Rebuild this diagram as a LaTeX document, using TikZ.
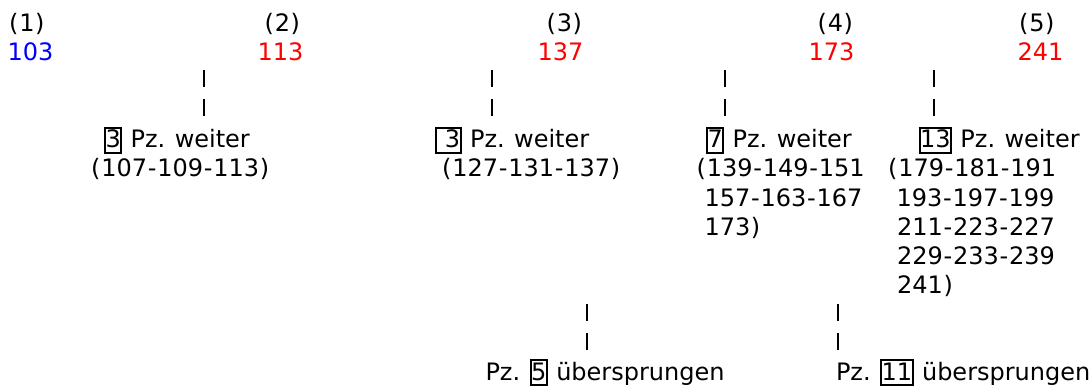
\documentclass[tikz,border=0pt]{standalone}
\usepackage{fontspec}
\setmainfont{DejaVu Sans}[WordSpace=1.1]
\frenchspacing
\definecolor{numblue}{RGB}{0,0,255}
\definecolor{numred}{RGB}{255,0,0}
\newcommand{\boxnum}[1]{{\setlength{\fboxsep}{0pt}\setlength{\fboxrule}{2pt}\fbox{\rule[-4.3pt]{0pt}{23.6pt}\kern-0.5pt#1\kern-0.5pt}}}
\newcommand{\hy}{\kern0.8pt-\kern0.8pt}
\newcommand{\lp}{\kern0.7pt(\kern0.7pt}
\newcommand{\rp}{\kern0.7pt)\kern0.7pt}
\tikzset{
  txt/.style={anchor=base west, inner sep=0pt, outer sep=0pt, font=\fontsize{24}{29}\selectfont\frenchspacing},
  bar/.style={line width=2pt, dash pattern=on 17pt off 12pt}
}
\begin{document}
\begin{tikzpicture}[x=1pt,y=-1pt]
\useasboundingbox (0,0) rectangle (1091,390);
% row baselines: 32, 61, 90, 119, 148, 177, 206, 235, 264, 293, 322, 351, 380
% header labels
\node[txt] (h1) at (8.5,32) {\lp1\rp};
\node[txt] (h2) at (264,32) {\lp2\rp};
\node[txt] (h3) at (546,32) {\lp3\rp};
\node[txt] (h4) at (817,32) {\lp4\rp};
\node[txt] (h5) at (1018.5,32) {\lp5\rp};
% primes
\node[txt, text=numblue] (p1) at (7.5,61) {103};
\node[txt, text=numred] (p2) at (257.5,61) {113};
\node[txt, text=numred] (p3) at (537.5,61) {137};
\node[txt, text=numred] (p4) at (808.5,61) {173};
\node[txt, text=numred] (p5) at (1017.5,61) {241};
% gap blocks
\node[txt] (g1) at (104,148) {\boxnum{3} Pz.\kern1pt\ weiter};
\node[txt] (g1a) at (90.5,177) {\lp107\hy109\hy113\rp};
\node[txt] (g2) at (435,148) {\boxnum{\ 3} Pz.\kern1pt\ weiter};
\node[txt] (g2a) at (441.5,177) {\lp127\hy131\hy137\rp};
\node[txt] (g3) at (706,148) {\boxnum{7} Pz.\kern1pt\ weiter};
\node[txt] (g3a) at (696,177) {\lp139\hy149\hy151};
\node[txt] (g3b) at (704.5,206) {157\hy163\hy167};
\node[txt] (g3c) at (704.5,235) {173\rp};
\node[txt] (g4) at (918.5,148) {\boxnum{13} Pz.\kern1pt\ weiter};
\node[txt] (g4a) at (887.5,177) {\lp179\hy181\hy191};
\node[txt] (g4b) at (896.5,206) {193\hy197\hy199};
\node[txt] (g4c) at (897,235) {211\hy223\hy227};
\node[txt] (g4d) at (897,264) {229\hy233\hy239};
\node[txt] (g4e) at (897,293) {241\rp};
% skipped
\node[txt] (s1) at (485.5,380) {Pz.\kern1pt\ \boxnum{5} übersprungen};
\node[txt] (s2) at (836,380) {Pz.\kern1pt\ \boxnum{11} übersprungen};
% connector bars
\coordinate (c1t) at (204,70.5); \coordinate (c1b) at (204,116.5);
\coordinate (c2t) at (492,70.5); \coordinate (c2b) at (492,116.5);
\coordinate (c3t) at (725,70.5); \coordinate (c3b) at (725,116.5);
\coordinate (c4t) at (934,70.5); \coordinate (c4b) at (934,116.5);
\coordinate (c5t) at (587,304) ; \coordinate (c5b) at (587,350);
\coordinate (c6t) at (838,304); \coordinate (c6b) at (838,350);
\draw[bar] (c1t) -- (c1b);
\draw[bar] (c2t) -- (c2b);
\draw[bar] (c3t) -- (c3b);
\draw[bar] (c4t) -- (c4b);
\draw[bar] (c5t) -- (c5b);
\draw[bar] (c6t) -- (c6b);
\end{tikzpicture}
\end{document}
